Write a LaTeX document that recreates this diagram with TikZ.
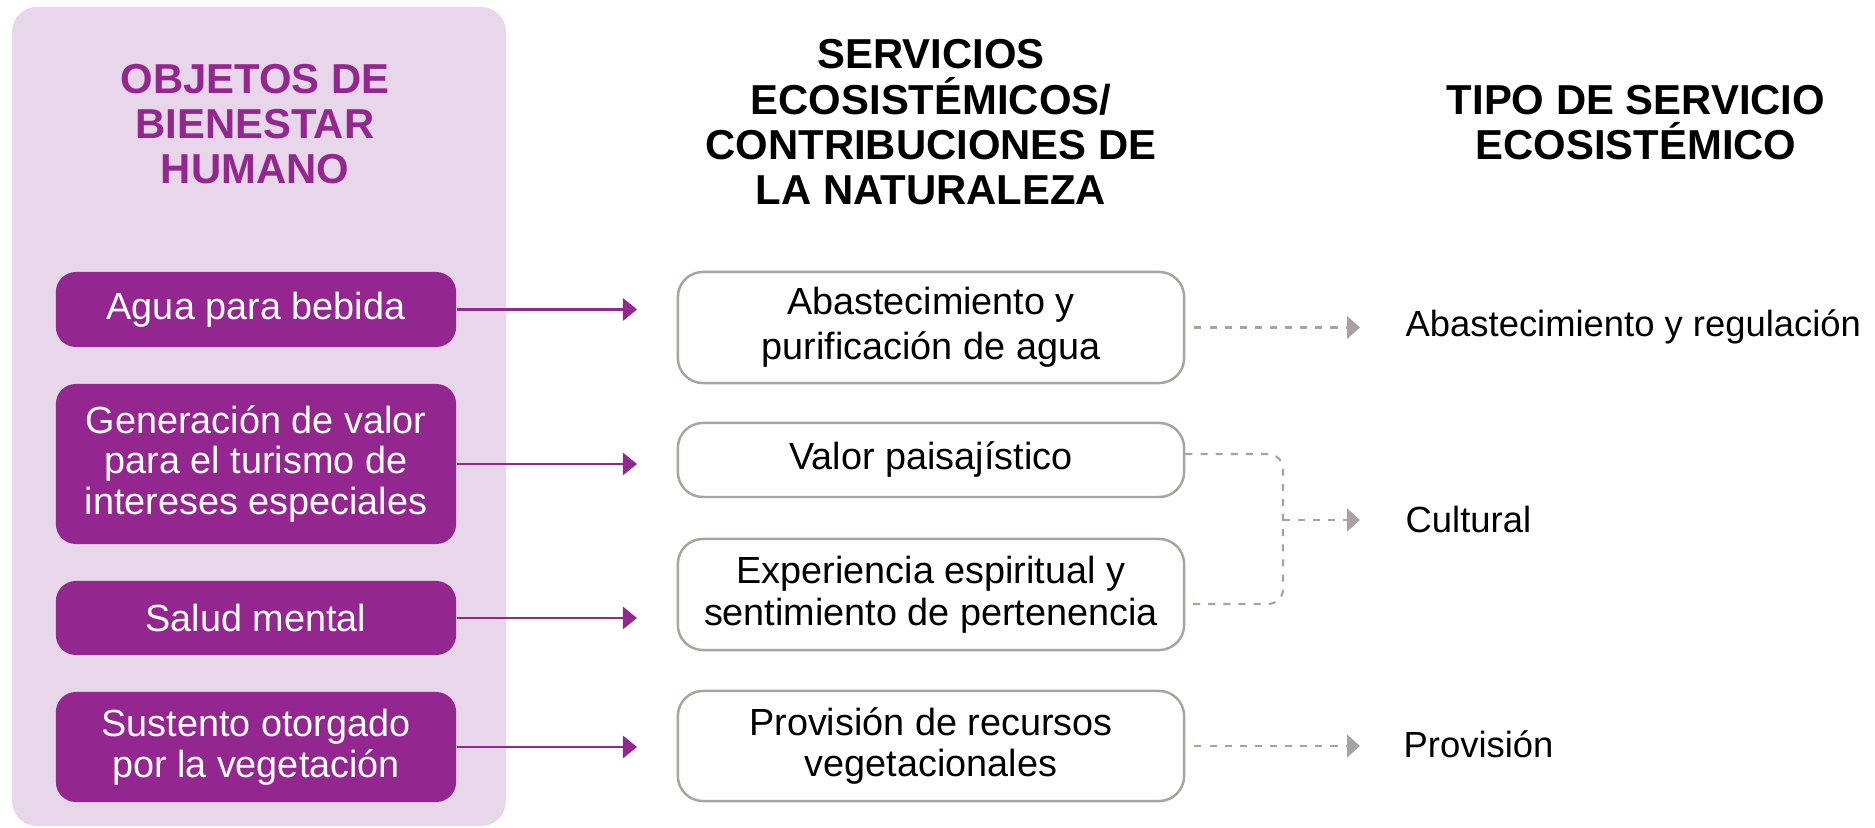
\documentclass[tikz,border=0pt]{standalone}
\usepackage{fontspec}
\setmainfont{Liberation Sans}
\usetikzlibrary{arrows.meta}
\definecolor{purp}{HTML}{93278F}
\definecolor{panelc}{HTML}{E8D6EA}
\definecolor{gborder}{HTML}{A9A4A2}
\definecolor{gdash}{HTML}{A8A2A0}
\begin{document}
\begin{tikzpicture}[x=0.01cm,y=-0.01cm,
  header/.style={font=\fontsize{11.9}{12.9}\selectfont\bfseries, align=center, inner sep=0pt},
  bodyfont/.style={font=\fontsize{10.75}{11.6}\selectfont},
  pbox/.style={bodyfont, fill=purp, text=white, rounded corners=0.2cm, minimum width=4cm, align=center, inner sep=0pt},
  wbox/.style={font=\fontsize{10.75}{11.9}\selectfont, draw=gborder, line width=0.7pt, fill=white, rounded corners=0.25cm, minimum width=5.06cm, align=center, inner sep=0pt},
  parrow/.style={draw=purp, line width=0.75pt, -{Triangle[length=4pt,width=6.3pt]}},
  gline/.style={draw=gdash, line width=0.6pt, dash pattern=on 2pt off 2.3pt},
  garrow/.style={gline, -{Triangle[length=3.7pt,width=6.5pt]}},
  tlabel/.style={font=\fontsize{10.35}{11}\selectfont, anchor=base west, inner sep=0pt}
]
\useasboundingbox (0,0) rectangle (1875,828);
% panel
\fill[panelc, rounded corners=0.25cm] (12,7) rectangle (506,826);
% headers
\node[header, text=purp] (h1) at (255,124) {OBJETOS DE\\BIENESTAR\\HUMANO};
\node[header] (h2) at (931,122.5) {SERVICIOS\\ECOSISTÉMICOS/\\CONTRIBUCIONES DE\\LA NATURALEZA};
\node[header] (h3) at (1636,122.5) {TIPO DE SERVICIO\\ECOSISTÉMICO};
% purple boxes
\node[pbox, minimum height=0.75cm] (P1) at (256,309.5) {Agua para bebida};
\node[pbox, minimum height=1.6cm] (P2) at (256,464) {Generación de valor\\para el turismo de\\intereses especiales};
\node[pbox, minimum height=0.74cm] (P3) at (256,618) {Salud mental};
\node[pbox, minimum height=1.1cm] (P4) at (256,747) {Sustento otorgado\\por la vegetación};
% white boxes
\node[wbox, font=\fontsize{10.75}{12.8}\selectfont, minimum height=1.11cm] (W1) at (931,327.5) {Abastecimiento y\\purificación de agua};
\node[wbox, minimum height=0.74cm] (W2) at (931,460) {Valor paisajístico};
\node[wbox, minimum height=1.11cm] (W3) at (931,594.5) {Experiencia espiritual y\\sentimiento de pertenencia};
\node[wbox, minimum height=1.10cm] (W4) at (931,746) {Provisión de recursos\\vegetacionales};
% right labels
\node[tlabel] (T1) at (1405,337) {Abastecimiento y regulación};
\node[tlabel] (T2) at (1405,533) {Cultural};
\node[tlabel] (T3) at (1403,758) {Provisión};
% coordinates
\coordinate (px) at (637,0);
\coordinate (ax) at (1360,0);
% purple arrows
\draw[parrow] (P1.east) -- (P1.east -| px);
\draw[parrow] (P2.east) -- (P2.east -| px);
\draw[parrow] (P3.east) -- (P3.east -| px);
\draw[parrow] (P4.east) -- (P4.east -| px);
% gray arrows
\draw[garrow] ([xshift=0.09cm]W1.east) -- (W1.east -| ax);
\draw[garrow] ([xshift=0.09cm]W4.east) -- (W4.east -| ax);
% bracket
\coordinate (b1) at ([yshift=0.06cm]W2.east);
\coordinate (b2) at ([yshift=-0.095cm]W3.east);
\coordinate (bm) at (1283,520);
\draw[gline, rounded corners=0.15cm] (b1) -- (b1 -| bm) -- (b2 -| bm) -- (b2);
\draw[garrow] (bm) -- (bm -| ax);
\end{tikzpicture}
\end{document}
